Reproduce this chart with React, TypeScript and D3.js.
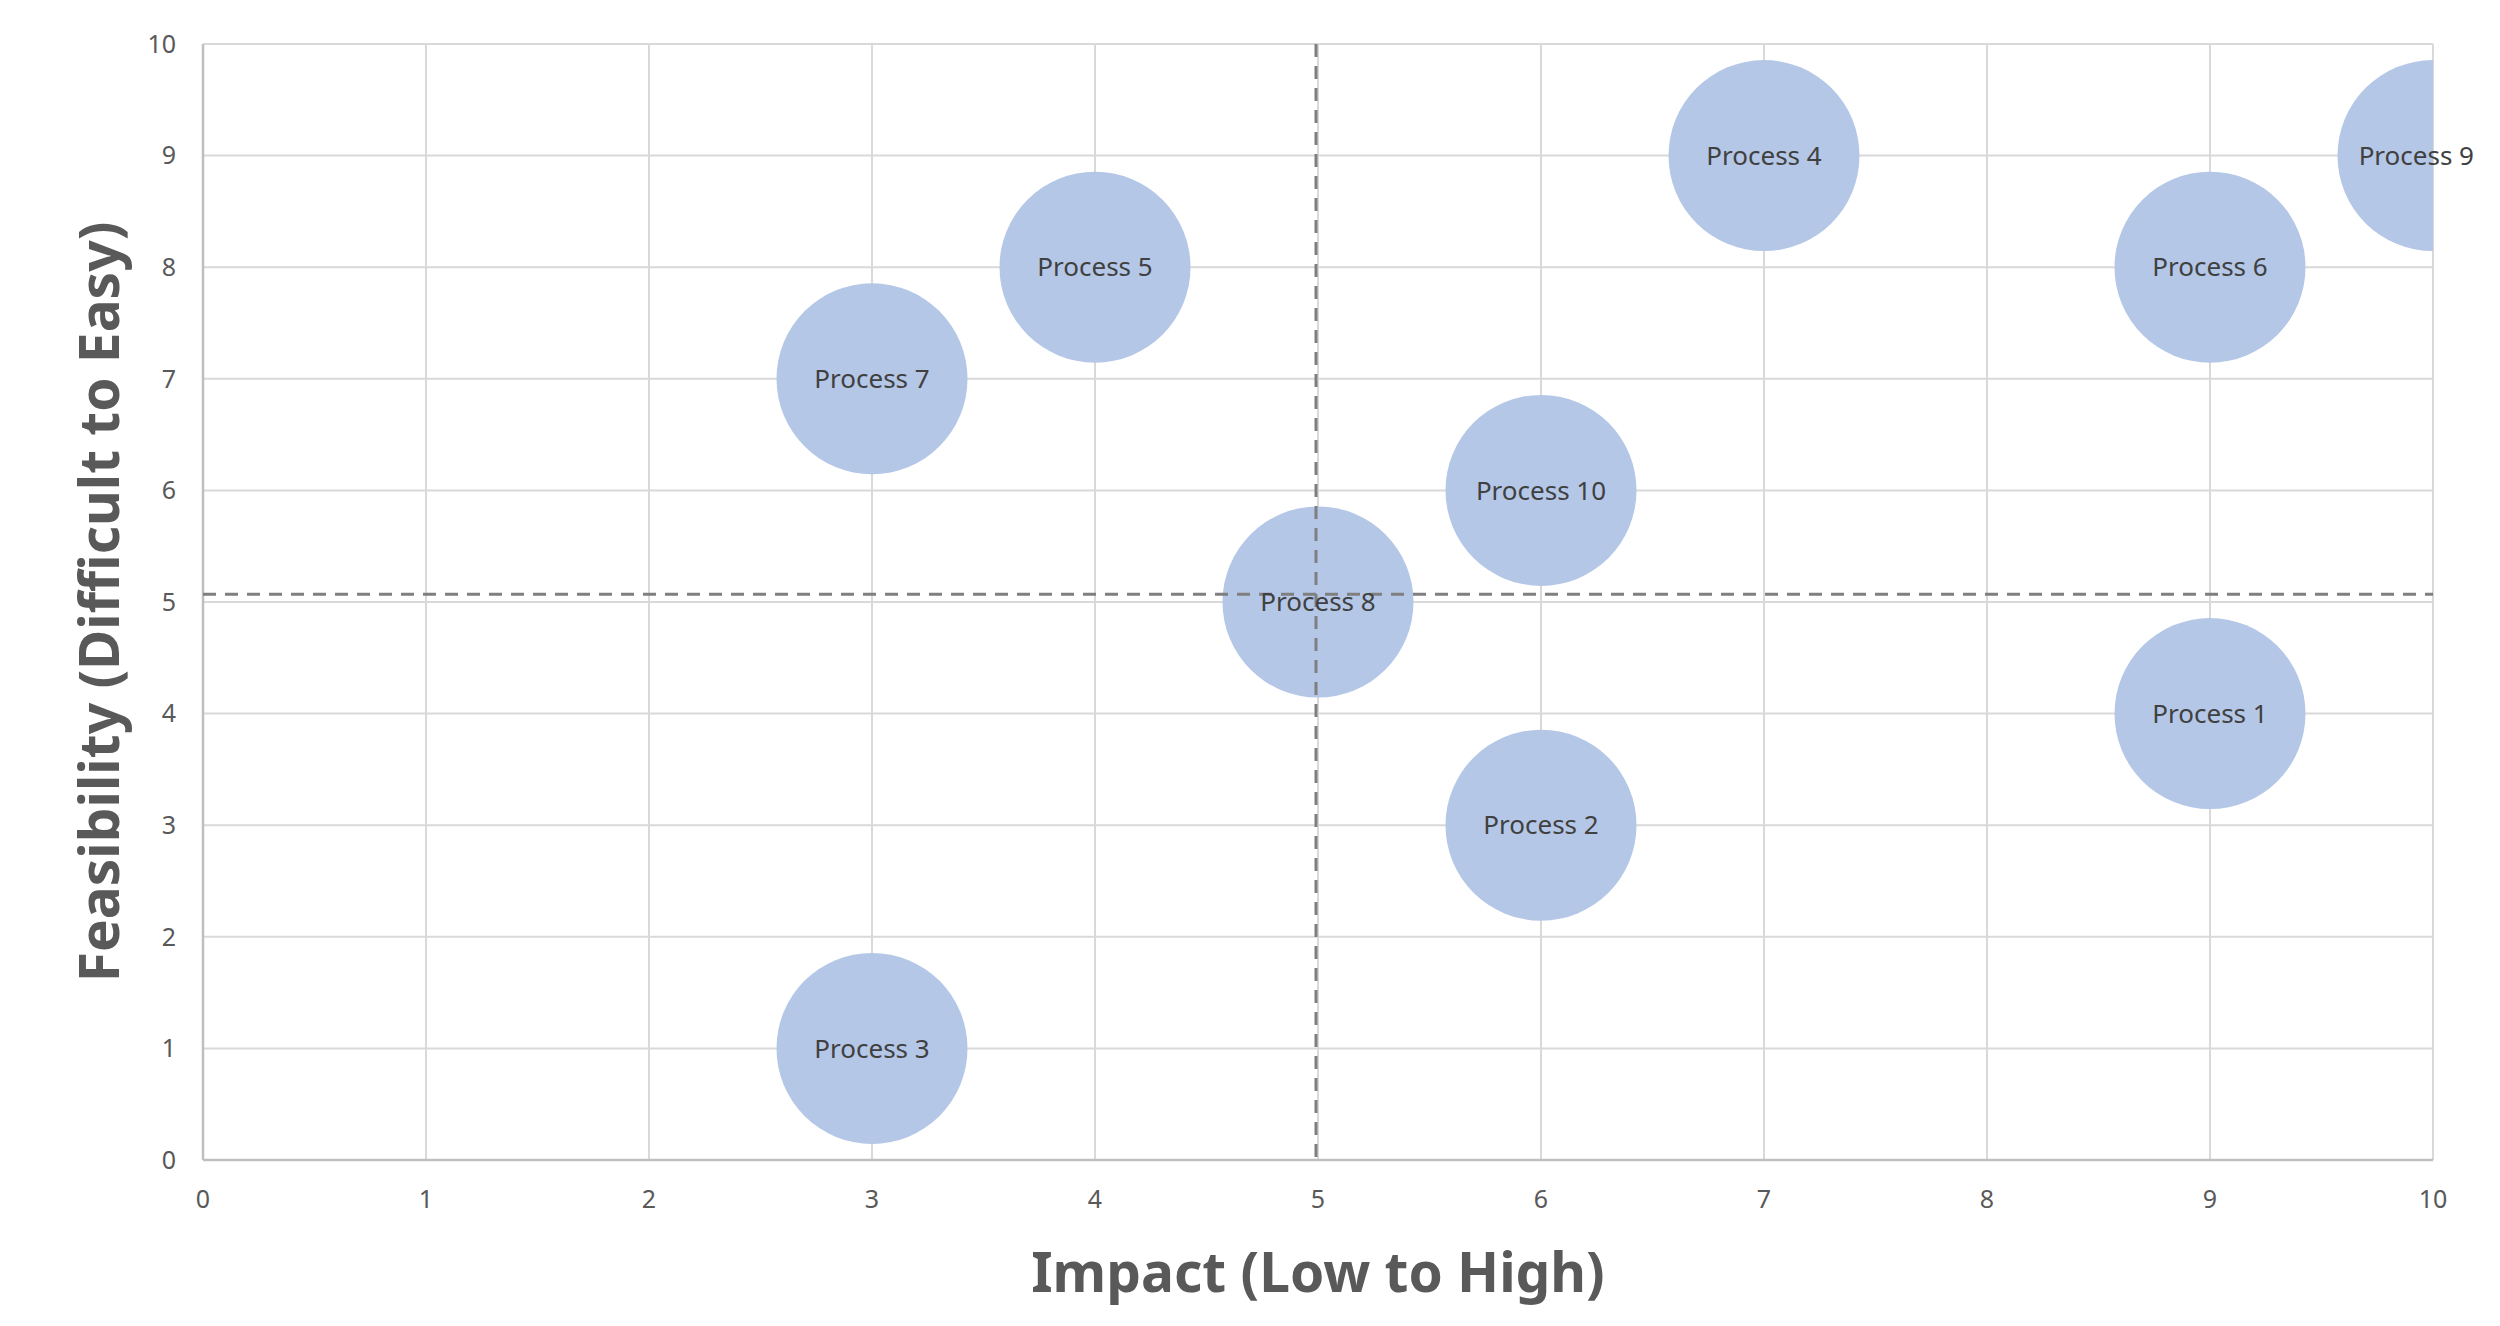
import React from "react";
import * as d3 from "d3";

const processNames = ["Process 1","Process 2","Process 3","Process 4","Process 5","Process 6","Process 7","Process 8","Process 9","Process 10"];
const impactValues = [9, 6, 3, 7, 4, 9, 3, 5, 10, 6];
const feasibilityValues = [4, 3, 1, 9, 8, 8, 7, 5, 9, 6];
const bubbleSizes = [1, 1, 1, 1, 1, 1, 1, 1, 1, 1];
const xTicks = [0, 1, 2, 3, 4, 5, 6, 7, 8, 9, 10];
const yTicks = [0, 1, 2, 3, 4, 5, 6, 7, 8, 9, 10];
const quadrantX = [5];
const quadrantY = [5.07];
const xTitle = "Impact (Low to High)";
const yTitle = "Feasibility (Difficult to Easy)";

const W = 2500, H = 1326;
const M = { left: 203, right: 2433, top: 44, bottom: 1160 };
const LABEL_RIGHT_LIMIT = 2474;
const LABEL_HALF = 57;

export default function App() {
  const x = d3.scaleLinear().domain([0, 10]).range([M.left, M.right]);
  const y = d3.scaleLinear().domain([0, 10]).range([M.bottom, M.top]);
  const r = d3.scaleSqrt().domain([0, 1]).range([0, 95.5]);
  const font = "'Noto Sans', 'Open Sans', sans-serif";
  const pts = processNames.map((n, i) => ({ n, x: impactValues[i], y: feasibilityValues[i], s: bubbleSizes[i] }));
  return (
    <svg width={W} height={H} style={{ position: "absolute", left: 0, top: 0, background: "#fff" }} fontFamily={font}>
      <defs>
        <clipPath id="plotClip">
          <rect x={M.left} y={M.top} width={M.right - M.left} height={M.bottom - M.top} />
        </clipPath>
      </defs>
      <rect x={0} y={0} width={W} height={H} fill="#fff" />
      {xTicks.map((t) => (
        <line key={"gx" + t} x1={x(t)} x2={x(t)} y1={y(10)} y2={y(0)} stroke="#D9D9D9" strokeWidth={2} />
      ))}
      {yTicks.map((t) => (
        <line key={"gy" + t} x1={x(0)} x2={x(10)} y1={y(t)} y2={y(t)} stroke="#D9D9D9" strokeWidth={2} />
      ))}
      <line x1={x(0)} x2={x(10)} y1={y(0)} y2={y(0)} stroke="#BFBFBF" strokeWidth={2.5} />
      <line x1={x(0)} x2={x(0)} y1={y(0)} y2={y(10)} stroke="#BFBFBF" strokeWidth={2.5} />
      <g clipPath="url(#plotClip)">
        {pts.map((p) => (
          <circle key={p.n} cx={x(p.x)} cy={y(p.y)} r={r(p.s)} fill="#B4C7E7" />
        ))}
      </g>
      {quadrantX.map((v, i) => (
        <line key={"qx" + i} x1={x(v) - 2} x2={x(v) - 2} y1={y(10)} y2={y(0)} stroke="#7F7F7F" strokeWidth={3} strokeDasharray="13 9" />
      ))}
      {quadrantY.map((v, i) => (
        <line key={"qy" + i} x1={x(0)} x2={x(10)} y1={y(v)} y2={y(v)} stroke="#7F7F7F" strokeWidth={3} strokeDasharray="13 9" />
      ))}
      {pts.map((p) => {
        const cx = x(p.x);
        const over = cx + LABEL_HALF > LABEL_RIGHT_LIMIT;
        return (
          <text key={"l" + p.n} x={over ? LABEL_RIGHT_LIMIT : cx} y={y(p.y)} dy="0.35em" textAnchor={over ? "end" : "middle"} fontSize={26} fill="#404040">
            {p.n}
          </text>
        );
      })}
      {xTicks.map((t) => (
        <text key={"tx" + t} x={x(t)} y={1208} textAnchor="middle" fontSize={25} fill="#595959">{t}</text>
      ))}
      {yTicks.map((t) => (
        <text key={"ty" + t} x={176} y={y(t)} dy="0.35em" textAnchor="end" fontSize={25} fill="#595959">{t}</text>
      ))}
      <text x={(M.left + M.right) / 2} y={1292} textAnchor="middle" fontSize={55} fontWeight="bold" fill="#595959">{xTitle}</text>
      <text transform={`translate(${119},${(M.top + M.bottom) / 2}) rotate(-90)`} textAnchor="middle" fontSize={55} fontWeight="bold" fill="#595959">{yTitle}</text>
    </svg>
  );
}
